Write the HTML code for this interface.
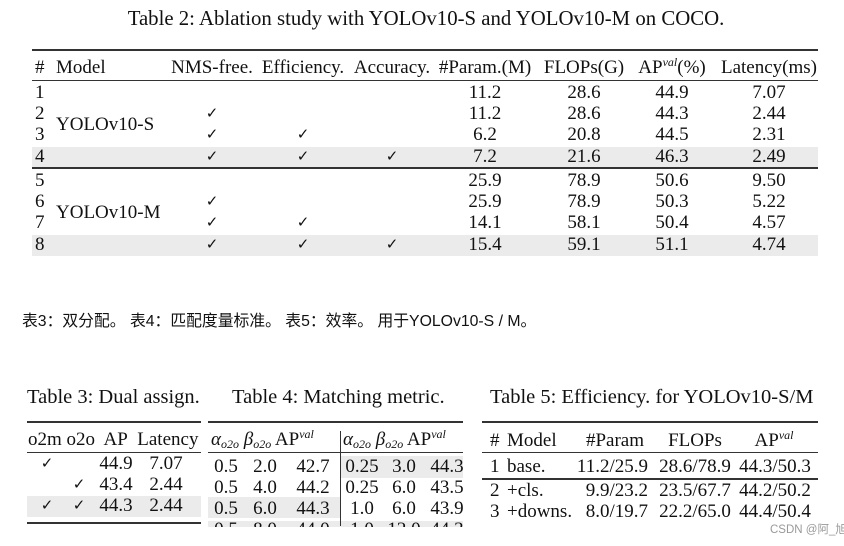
<!DOCTYPE html>
<html><head><meta charset="utf-8">
<style>
body{margin:0;background:#fff;}
#page{position:relative;width:844px;height:546px;overflow:hidden;background:#fff;font-family:"Liberation Serif",serif;color:#111;}
.t{position:absolute;white-space:nowrap;line-height:20px;height:20px;font-size:19px;}
.r{position:absolute;background:#333;}
.s{position:absolute;background:#ebebeb;}
.w{position:absolute;background:#fff;}
sup{font-size:12px;font-style:italic;vertical-align:7px;line-height:0}
sub{font-size:12px;font-style:italic;vertical-align:-3px;line-height:0}
i{font-style:italic}
</style></head><body>
<div id="page"></div>
<script>
const page=document.getElementById('page');
function T(x,y,html,al,fs,name){
  const d=document.createElement('div');
  d.className='t';d.innerHTML=html;
  
  
  if(fs){d.style.fontSize=fs+'px';}
  d.style.top=(y-10)+'px';
  if(al==='c'){d.style.left=x+'px';d.style.transform='translateX(-50%)';}
  else if(al==='r'){d.style.right=(844-x)+'px';}
  else d.style.left=x+'px';
  page.appendChild(d);
  return d;
}
function R(x,y,w,h,cls,name){
  const d=document.createElement('div');
  d.className=cls||'r';
  
  
  d.style.left=x+'px';d.style.top=y+'px';d.style.width=w+'px';d.style.height=h+'px';
  page.appendChild(d);
}
// Table 2
T(426,19,'Table 2: Ablation study with YOLOv10-S and YOLOv10-M on COCO.','c',20.8,'table2-title');
R(32,147,786,20,'s','shade-row4');R(32,235,786,21,'s','shade-row8');
R(32,49,786,2,'r','top-rule');R(32,80,786,1,'r','header-rule');R(32,167,786,2,'r','mid-rule');
const hdr=[[35,'#','l'],[56,'Model','l'],[212,'NMS-free.','c'],[303,'Efficiency.','c'],[392,'Accuracy.','c'],[485,'#Param.(M)','c'],[584,'FLOPs(G)','c'],[672,'AP<sup>val</sup>(%)','c'],[769,'Latency(ms)','c']];
hdr.forEach(h=>T(h[0],68,h[1],h[2],19,'header'));
const rows=[[1,0,0,0,'11.2','28.6','44.9','7.07'],[2,1,0,0,'11.2','28.6','44.3','2.44'],[3,1,1,0,'6.2','20.8','44.5','2.31'],[4,1,1,1,'7.2','21.6','46.3','2.49'],
[5,0,0,0,'25.9','78.9','50.6','9.50'],[6,1,0,0,'25.9','78.9','50.3','5.22'],[7,1,1,0,'14.1','58.1','50.4','4.57'],[8,1,1,1,'15.4','59.1','51.1','4.74']];
const ys=[93,114,135,157,181,202,223,245];
rows.forEach((r,i)=>{const y=ys[i];
 T(35,y,r[0],'l',19,'row-index');
 if(r[1])T(212,y,'✓','c',15,'check');if(r[2])T(303,y,'✓','c',15,'check');if(r[3])T(392,y,'✓','c',15,'check');
 T(485,y,r[4],'c',19,'param');T(584,y,r[5],'c',19,'flops');T(672,y,r[6],'c',19,'ap');T(769,y,r[7],'c',19,'latency');});
T(56,125,'YOLOv10-S','l',19,'model-s');T(56,213,'YOLOv10-M','l',19,'model-m');
// Chinese caption
const cap=T(22,322,'表3：双分配。 表4：匹配度量标准。 表5：效率。 用于YOLOv10-S / M。','l',15.8,'caption-cn');
cap.style.fontFamily='"Liberation Sans","Noto Sans CJK SC",sans-serif';
// Table 3
T(27,397,'Table 3: Dual assign.','l',20.5,'table3-title');
R(27,496,174,21,'s','shade');
R(27,421,174,2);R(27,452,174,1);R(27,522,174,2);
T(28,440,'o2m o2o&nbsp; AP&nbsp; Latency','l',19,'t3-header');
[[1,0,'44.9','7.07'],[0,1,'43.4','2.44'],[1,1,'44.3','2.44']].forEach((r,i)=>{const y=464+i*21;
 if(r[0])T(47,y,'✓','c',15,'check');if(r[1])T(79,y,'✓','c',15,'check');T(116,y,r[2],'c',19,'ap');T(166,y,r[3],'c',19,'lat');});
// Table 4
T(232,397,'Table 4: Matching metric.','l',20.5,'table4-title');
R(340,456,123,22,'s','shade');R(208,497,132,21,'s','shade');R(208,521,255,6,'s','shade');
R(208,421,255,2);R(208,452,255,1);R(340,431,1,95,'r','vline');
T(211,440,'<i>α</i><sub>o2o</sub> <i>β</i><sub>o2o</sub> AP<sup>val</sup>','l',19,'t4-header-left');
T(343,440,'<i>α</i><sub>o2o</sub> <i>β</i><sub>o2o</sub> AP<sup>val</sup>','l',19,'t4-header-right');
[['0.5','2.0','42.7','0.25','3.0','44.3'],['0.5','4.0','44.2','0.25','6.0','43.5'],['0.5','6.0','44.3','1.0','6.0','43.9'],['0.5','8.0','44.0','1.0','12.0','44.3']].forEach((r,i)=>{const y=467+i*21;
 T(226,y,r[0],'c',19,'alpha');T(265,y,r[1],'c',19,'beta');T(313,y,r[2],'c',19,'ap');T(362,y,r[3],'c',19,'alpha');T(404,y,r[4],'c',19,'beta');T(447,y,r[5],'c',19,'ap');});
R(200,527,270,19,'w','crop-mask');
// Table 5
T(490,397,'Table 5: Efficiency. for YOLOv10-S/M','l',20.5,'table5-title');
R(482,421,336,2);R(482,452,336,1);R(482,478,336,2);
[[490,'#','l'],[507,'Model','l'],[615,'#Param','c'],[695,'FLOPs','c'],[774,'AP<sup>val</sup>','c']].forEach(h=>T(h[0],441,h[1],h[2],19,'t5-header'));
[[467,'1','base.','11.2/25.9','28.6/78.9','44.3/50.3'],[491,'2','+cls.','9.9/23.2','23.5/67.7','44.2/50.2'],[512,'3','+downs.','8.0/19.7','22.2/65.0','44.4/50.4']].forEach(r=>{
 T(490,r[0],r[1],'l',19,'idx');T(507,r[0],r[2],'l',19,'model');T(648,r[0],r[3],'r',19,'param');T(695,r[0],r[4],'c',19,'flops');T(775,r[0],r[5],'c',19,'ap');});
const wm=T(770,530,'CSDN @阿_旭','l',11.5,'watermark');
wm.style.fontFamily='"Liberation Sans","Noto Sans CJK SC",sans-serif';wm.style.color='#999';
</script>
</body></html>
